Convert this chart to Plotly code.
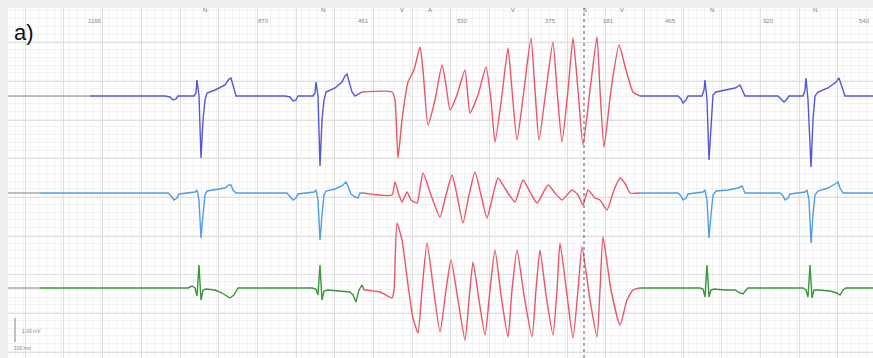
import plotly.graph_objects as go

# ---------------- data (time in ms, amplitude in mV relative to each lead baseline) -------------
LEAD_OFFSETS = [0.0, -1.94, -3.84]

START1_T = [40, 450]
START_T = [40, 200]
START_V = [0, 0]

L1_A_T = [450, 825, 850, 865, 880, 890, 970, 980, 985, 995, 1005, 1015, 1025, 1035, 1075, 1125, 1145, 1155, 1165, 1180,
          1425, 1450, 1465, 1480, 1490, 1565, 1575, 1580, 1590, 1600, 1610, 1620, 1630, 1675, 1710, 1725, 1735, 1750,
          1760, 1775, 1790, 1810]
L1_A_V = [0, 0, -0.02, -0.08, -0.06, 0, 0, 0.06, 0.32, 0, -1.24, -0.48, -0.08, 0.06, 0.12, 0.22, 0.34, 0.36, 0.22, 0,
          0, -0.02, -0.10, -0.08, 0, 0, 0.06, 0.28, 0, -1.40, -0.48, -0.08, 0.08, 0.16, 0.28, 0.40, 0.44, 0.22,
          0.08, 0, 0.04, 0.08]
L1_VT_T = [1810, 1960, 1975, 1990, 2010, 2040, 2070, 2100, 2115, 2140, 2175, 2210, 2230, 2250, 2285, 2325, 2350, 2390,
           2430, 2455, 2475, 2510, 2540, 2560, 2585, 2620, 2655, 2675, 2695, 2730, 2765, 2785, 2810, 2840, 2865, 2890,
           2915, 2950, 2985, 3000, 3020, 3055, 3095, 3130, 3165, 3200]
L1_VT_V = [0.08, 0.08, -0.08, -1.24, -0.48, 0.28, 0.52, 0.98, 0.52, -0.58, -0.08, 0.62, 0.22, -0.28, 0.02, 0.52, -0.34,
           0.02, 0.58, -0.08, -0.92, 0.02, 0.96, 0.12, -0.88, 0.12, 1.16, 0.12, -0.88, 0.12, 1.08, 0.12, -0.92, 0.12,
           1.16, 0.12, -0.98, 0.12, 1.18, 0.12, -1.02, 0.12, 1.02, 0.52, 0.08, 0]
L1_B_T = [3200, 3390, 3405, 3415, 3430, 3440, 3510, 3520, 3525, 3535, 3545, 3555, 3565, 3580, 3625, 3675, 3700, 3710,
          3725, 3890, 3905, 3920, 3935, 3945, 4015, 4025, 4030, 4040, 4055, 4065, 4075, 4090, 4140, 4180, 4195, 4210,
          4225, 4365]
L1_B_V = [0, 0, -0.06, -0.14, -0.08, 0, 0, 0.12, 0.32, -0.08, -1.28, -0.48, 0.02, 0.08, 0.12, 0.16, 0.22, 0.12,
          0, 0, -0.06, -0.12, -0.06, 0, 0, 0.12, 0.36, -0.08, -1.42, -0.48, 0, 0.08, 0.16, 0.28, 0.36, 0.16,
          0, 0]

L2_A_T = [200, 840, 855, 870, 885, 895, 975, 985, 995, 1005, 1015, 1025, 1035, 1075, 1125, 1145, 1155, 1165, 1180,
          1435, 1450, 1465, 1480, 1490, 1570, 1580, 1590, 1600, 1610, 1620, 1630, 1675, 1710, 1730, 1740, 1755, 1775,
          1790, 1800, 1815]
L2_A_V = [0, 0, -0.06, -0.14, -0.10, -0.02, 0.02, 0.06, -0.14, -0.90, -0.44, -0.04, 0.04, 0.06, 0.10, 0.16, 0.16, 0.06, 0,
          0, -0.06, -0.14, -0.10, -0.02, 0.02, 0.06, -0.14, -0.94, -0.44, -0.04, 0.04, 0.08, 0.14, 0.22, 0.14, -0.02,
          -0.08, -0.10, 0, 0]
L2_VT_T = [1815, 1960, 1975, 1995, 2010, 2035, 2055, 2085, 2115, 2155, 2200, 2230, 2260, 2285, 2315, 2345, 2375, 2405,
           2435, 2465, 2490, 2530, 2575, 2615, 2650, 2685, 2740, 2775, 2810, 2860, 2890, 2915, 2940, 2975, 3000, 3035,
           3070, 3100, 3130, 3150, 3200]
L2_VT_V = [0, -0.04, 0.22, -0.04, -0.18, 0.02, -0.14, -0.20, 0.40, -0.04, -0.48, -0.04, 0.36, -0.04, -0.60, -0.04, 0.42,
           -0.04, -0.50, -0.04, 0.30, 0.06, -0.18, 0.26, 0.02, -0.20, 0.16, 0, -0.14, 0.06, -0.04, -0.24, 0.06, -0.10,
           -0.14, -0.34, 0.06, 0.30, 0.16, 0, 0]
L2_B_T = [3200, 3390, 3405, 3415, 3430, 3440, 3515, 3525, 3535, 3545, 3555, 3565, 3580, 3640, 3690, 3710, 3725, 3900,
          3915, 3925, 3940, 3950, 4025, 4035, 4045, 4055, 4065, 4075, 4090, 4140, 4175, 4190, 4200, 4215, 4365]
L2_B_V = [0, 0, -0.06, -0.14, -0.10, -0.02, 0.02, 0.06, -0.14, -0.90, -0.44, -0.04, 0.04, 0.06, 0.10, 0.14, 0, 0,
          -0.06, -0.14, -0.10, -0.02, 0.02, 0.06, -0.14, -1.00, -0.44, -0.04, 0.04, 0.10, 0.18, 0.22, 0.10, 0, 0]

L3_A_T = [200, 940, 960, 975, 985, 995, 1005, 1015, 1030, 1075, 1110, 1150, 1170, 1190, 1560, 1580, 1590, 1600, 1610,
          1620, 1640, 1700, 1750, 1765, 1780, 1795, 1810, 1820]
L3_A_V = [0, 0, 0.04, 0, -0.16, 0.46, -0.24, -0.04, -0.02, -0.04, -0.10, -0.20, -0.14, 0, 0, -0.02, -0.14, 0.46, -0.24,
          -0.06, -0.04, -0.06, -0.08, -0.14, -0.28, -0.04, 0.06, -0.04]
L3_VT_T = [1820, 1900, 1960, 1970, 1985, 2010, 2040, 2065, 2090, 2110, 2135, 2165, 2200, 2230, 2255, 2290, 2325, 2345,
           2365, 2395, 2425, 2450, 2475, 2505, 2540, 2560, 2585, 2620, 2660, 2680, 2700, 2730, 2765, 2785, 2800, 2835,
           2865, 2890, 2910, 2950, 2985, 3000, 3015, 3055, 3100, 3135, 3165, 3200]
L3_VT_V = [-0.04, -0.08, -0.20, -0.04, 1.30, 0.96, 0.06, -0.60, -0.90, -0.04, 0.90, 0.06, -0.88, -0.04, 0.56, -0.24,
           -1.04, -0.24, 0.52, -0.24, -0.94, -0.04, 0.76, -0.14, -0.98, -0.04, 0.76, -0.14, -0.98, -0.04, 0.76, -0.14,
           -0.94, -0.04, 0.90, -0.14, -1.00, -0.04, 0.82, -0.24, -0.98, -0.04, 1.02, -0.04, -0.74, -0.24, -0.04, 0]
L3_B_T = [3200, 3500, 3515, 3525, 3535, 3545, 3555, 3570, 3625, 3675, 3700, 3715, 3730, 3740, 4015, 4030, 4040, 4050,
          4060, 4070, 4090, 4150, 4185, 4200, 4215, 4230, 4365]
L3_B_V = [0, 0, -0.02, -0.18, 0.46, -0.18, -0.04, -0.02, -0.04, -0.04, -0.10, -0.12, -0.04, 0, 0, -0.04, -0.18, 0.46,
          -0.20, -0.04, -0.04, -0.06, -0.10, -0.14, -0.04, 0, 0]

BEAT_LABELS = ["N", "N", "V", "A", "V", "S", "V", "N", "N"]
BEAT_T = [1025, 1615, 2010, 2150, 2565, 2925, 3110, 3560, 4075]
INTERVAL_LABELS = ["1166", "870", "461", "530", "375", "181", "465", "920", "540"]
INTERVAL_T = [475, 1315, 1815, 2310, 2750, 3040, 3350, 3840, 4360]
MARKER_T = 2920
SCALEBAR_T = [75, 75]
SCALEBAR_MV = [-4.44, -4.92]

# ---------------- styles ----------------
BLUE = "#5656d8"
LIGHTBLUE = "#4f9de6"
GREEN = "#3b963b"
RED = "#ec5468"
GRAY = "#808080"

fig = go.Figure()

def add(t, v, off, color, w=1.4, shape="linear"):
    fig.add_trace(go.Scatter(x=t, y=[val + off for val in v], mode="lines",
                             line=dict(color=color, width=w, shape=shape, smoothing=0.5),
                             hoverinfo="skip", showlegend=False))

add(START1_T, START_V, LEAD_OFFSETS[0], GRAY, 1.0)
add(START_T, START_V, LEAD_OFFSETS[1], GRAY, 1.0)
add(START_T, START_V, LEAD_OFFSETS[2], GRAY, 1.0)

add(L1_A_T, L1_A_V, LEAD_OFFSETS[0], BLUE)
add(L1_VT_T, L1_VT_V, LEAD_OFFSETS[0], RED, shape="spline")
add(L1_B_T, L1_B_V, LEAD_OFFSETS[0], BLUE)
add(L2_A_T, L2_A_V, LEAD_OFFSETS[1], LIGHTBLUE)
add(L2_VT_T, L2_VT_V, LEAD_OFFSETS[1], RED, shape="spline")
add(L2_B_T, L2_B_V, LEAD_OFFSETS[1], LIGHTBLUE)
add(L3_A_T, L3_A_V, LEAD_OFFSETS[2], GREEN)
add(L3_VT_T, L3_VT_V, LEAD_OFFSETS[2], RED, shape="spline")
add(L3_B_T, L3_B_V, LEAD_OFFSETS[2], GREEN)

# scale bar
fig.add_trace(go.Scatter(x=SCALEBAR_T, y=SCALEBAR_MV, mode="lines", line=dict(color="#888", width=1),
                         hoverinfo="skip", showlegend=False))

# cursor line
fig.add_shape(type="line", xref="x", yref="paper", x0=MARKER_T, x1=MARKER_T, y0=0, y1=1,
              line=dict(color="#555", width=1, dash="dot"))

for lab, t in zip(BEAT_LABELS, BEAT_T):
    fig.add_annotation(x=t, y=1.72, text=lab, showarrow=False, font=dict(size=6, color="#777", family="Liberation Sans"))
for i, (lab, t) in enumerate(zip(INTERVAL_LABELS, INTERVAL_T)):
    anchor = "right" if i == len(INTERVAL_LABELS) - 1 else "center"
    fig.add_annotation(x=t, y=1.5, text=lab, showarrow=False, xanchor=anchor,
                       font=dict(size=6, color="#888", family="Liberation Sans"))

fig.add_annotation(xref="paper", yref="paper", x=0.005, y=0.93, xanchor="left", yanchor="middle",
                   text="a)", showarrow=False, font=dict(size=22, color="#111", family="Liberation Sans"))
fig.add_annotation(x=100, y=-4.69, xanchor="left", text="1,00 mV", showarrow=False,
                   font=dict(size=5, color="#888", family="Liberation Sans"))
fig.add_annotation(x=60, y=-5.04, xanchor="left", text="100 ms", showarrow=False,
                   font=dict(size=5, color="#888", family="Liberation Sans"))

fig.update_xaxes(range=[40, 4365], showticklabels=False, zeroline=False, ticks="",
                 showgrid=True, gridcolor="#e0e0e0", gridwidth=1, tick0=126, dtick=193.5,
                 minor=dict(showgrid=True, gridcolor="#f2f2f2", dtick=38.7))
fig.update_yaxes(range=[-5.24, 1.76], showticklabels=False, zeroline=False, ticks="",
                 showgrid=True, gridcolor="#e0e0e0", gridwidth=1, tick0=-0.48, dtick=0.774,
                 minor=dict(showgrid=True, gridcolor="#f2f2f2", dtick=0.1548))

fig.update_layout(width=873, height=358, margin=dict(l=8, r=0, t=8, b=0),
                  paper_bgcolor="#eeeeee", plot_bgcolor="white")

fig.write_html("out.html", config={"displayModeBar": False},
               post_script="document.body.style.margin='0';document.body.style.background='#eeeeee';")
